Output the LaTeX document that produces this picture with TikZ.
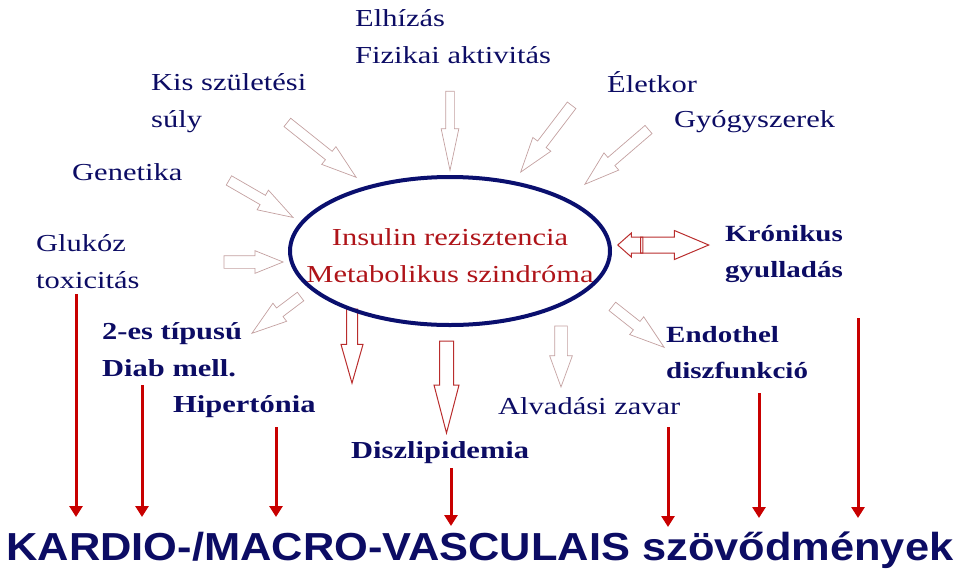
\documentclass[tikz,border=0pt]{standalone}
\usepackage{fontspec}
\setmainfont{Liberation Serif}
\newfontfamily\kardiofont{Liberation Sans}
\usetikzlibrary{shapes.geometric,shapes.arrows,arrows.meta}

\definecolor{navytext}{RGB}{12,12,100}
\definecolor{navyline}{RGB}{10,15,110}
\definecolor{redtext}{RGB}{175,20,25}
\definecolor{arrowred}{RGB}{200,0,0}
\definecolor{paleline}{RGB}{195,160,160}
\definecolor{hollowred}{RGB}{185,45,45}

\tikzset{
  factor/.style={font=\fontsize{30.5}{46}\selectfont, text=navytext, inner sep=0pt, anchor=base west, yscale=0.8, align=left},
  boldfactor/.style={factor, font=\fontsize{30.5}{46}\selectfont\bfseries},
  smallbold/.style={factor, font=\fontsize{29}{44}\selectfont\bfseries},
  palearrow/.style={single arrow, draw=paleline, line width=0.7pt, inner xsep=0pt, inner ysep=5pt, single arrow head extend=6pt, single arrow tip angle=36, anchor=tip},
  hollowarrow/.style={single arrow, draw=hollowred, line width=1pt, inner xsep=0pt, anchor=tip},
  redarrow/.style={arrowred, line width=3pt, -{Triangle[width=13pt,length=11pt]}}
}

\begin{document}
\begin{tikzpicture}[x=1pt, y=-1pt]
  \useasboundingbox (0,0) rectangle (960,576);

  % Draw risk factors around the ellipse (base is the last line)
  \node[factor] (elhizas) at (355,63) {Elhízás\\Fizikai aktivitás};
  \node[factor] (kis) at (151,127) {Kis születési\\súly};
  \node[factor] (genetika) at (72,180) {Genetika};
  \node[factor] (glukoz) at (36,288) {Glukóz\\toxicitás};
  \node[factor] (eletkor) at (607,92) {Életkor};
  \node[factor] (gyogyszer) at (674,127) {Gyógyszerek};
  \node[factor] (alvadas) at (498,414) {Alvadási zavar};
  \node[boldfactor] (tipus) at (102,376) {2-es típusú\\Diab mell.};
  \node[boldfactor] (hiper) at (173,412) {Hipertónia};
  \node[boldfactor] (lipid) at (351,458) {Diszlipidemia};
  \node[smallbold, anchor=base, align=center] (kronikus) at (784,277) {Krónikus\\gyulladás};
  \node[smallbold] (endothel) at (666,378) {Endothel\\diszfunkció};

  % Draw pale block arrows, placed at their tips
  \node[palearrow, minimum height=88pt, rotate=-38.6] (kis arrow) at (357,178) {};
  \node[palearrow, minimum height=74pt, rotate=-30] (genetika arrow) at (294,218) {};
  \node[palearrow, minimum height=59pt, inner ysep=6pt, single arrow head extend=5pt, single arrow tip angle=44] (glukoz arrow) at (284,262) {};
  \node[palearrow, minimum height=61pt, rotate=-142.9] (tipus arrow) at (251,334) {};
  \node[palearrow, minimum height=79pt, rotate=-90, inner ysep=4pt, single arrow head extend=4.5pt, single arrow tip angle=24] (elhizas arrow) at (450,172) {};
  \node[palearrow, minimum height=84pt, rotate=-127.3] (eletkor arrow) at (520,173) {};
  \node[palearrow, minimum height=84pt, rotate=-139.3] (gyogyszer arrow) at (584,185) {};
  \node[palearrow, minimum height=61pt, rotate=-90, inner ysep=6pt, single arrow head extend=5pt, single arrow tip angle=40] (alvadas arrow) at (561,388) {};
  \node[palearrow, minimum height=66pt, rotate=-38.3] (endothel arrow) at (665,348) {};

  % Draw red block arrows
  \node[hollowarrow, minimum height=74pt, inner ysep=5pt, single arrow head extend=5.5pt, single arrow tip angle=31.7, rotate=-90] (lipid arrow a) at (352,385) {};
  \node[hollowarrow, minimum height=92pt, inner ysep=6.5pt, single arrow head extend=5.5pt, single arrow tip angle=29.2, rotate=-90] (lipid arrow b) at (446.5,435) {};
  \node[hollowarrow, minimum height=25pt, inner ysep=7.5pt, single arrow head extend=4pt, single arrow tip angle=83, rotate=180] (gyull back) at (617,245) {};
  \node[hollowarrow, minimum height=68pt, inner ysep=7.5pt, single arrow head extend=6.5pt, single arrow tip angle=45.8] (gyull fwd) at (710,245) {};

  % Draw ellipse with its text
  \node[draw=navyline, line width=4pt, ellipse, minimum width=320pt, minimum height=148pt, inner sep=0pt] (ir) at (450,251) {};
  \node[factor, text=redtext, anchor=base, align=center] (ir text) at (450,282) {Insulin rezisztencia\\Metabolikus szindróma};

  % Draw red arrows down to the complications
  \foreach \x/\ytop/\ytip [count=\i] in {76/294/517, 142/385/517, 276/427/517, 451/468/526, 668/427/527, 759/393/518, 858/318/518}
  {
    \coordinate (risk top \i) at (\x,\ytop);
    \coordinate (risk tip \i) at (\x,\ytip);
    \draw[redarrow] (risk top \i) -- (risk tip \i);
  }

  % Draw complications
  \node[font=\kardiofont\bfseries\fontsize{43.4}{50}\selectfont, text=navytext, yscale=0.9, anchor=base, inner sep=0pt] (kardio) at (480,560) {KARDIO-/MACRO-VASCULAIS szövődmények};
\end{tikzpicture}
\end{document}
